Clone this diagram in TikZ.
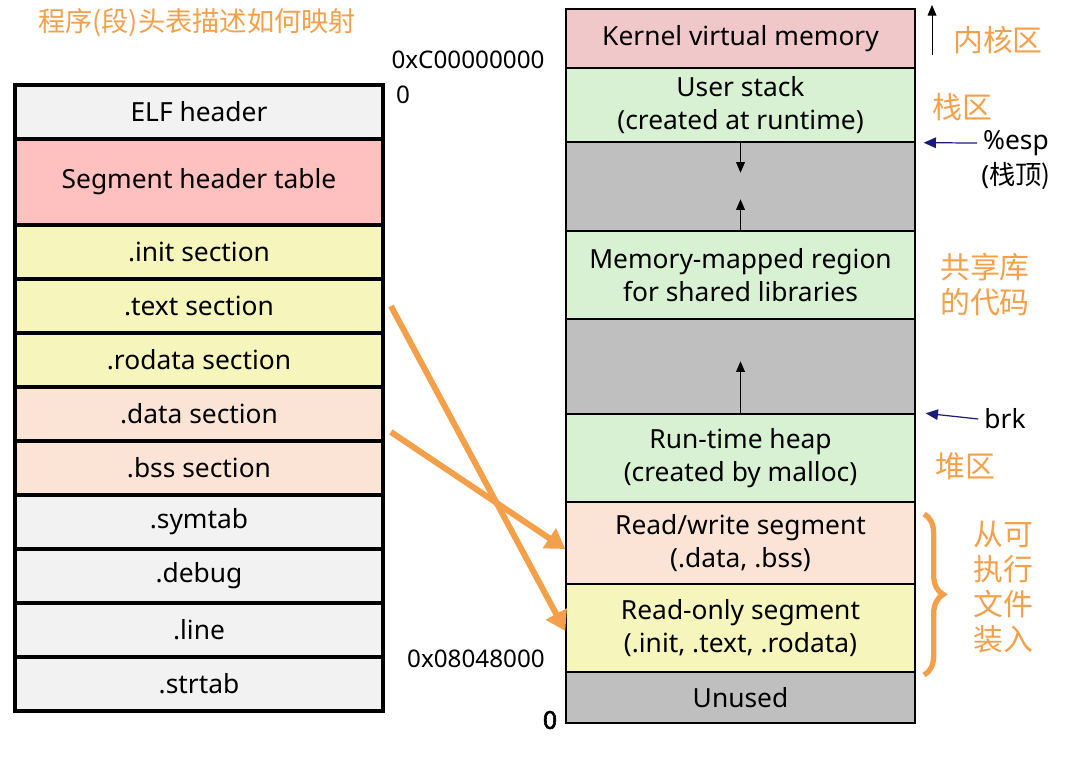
\documentclass[tikz,border=0pt]{standalone}
\usepackage{fontspec}
\setmainfont{Noto Sans}
\newfontfamily\cjk{Noto Sans CJK SC}
\newfontfamily\heavy{Noto Sans}[FakeBold=2.5]
\usetikzlibrary{arrows.meta,decorations.pathreplacing}
\definecolor{orng}{HTML}{F4A04A}
\definecolor{lgry}{HTML}{F2F2F2}
\definecolor{pnk}{HTML}{FFC0C0}
\definecolor{ylw}{HTML}{F5F5BC}
\definecolor{peach}{HTML}{FBE4D6}
\definecolor{grn}{HTML}{D8F1D2}
\definecolor{dgry}{HTML}{BFBFBF}
\definecolor{kpnk}{HTML}{F0C8CA}
\definecolor{navyb}{HTML}{1C1C78}
\tikzset{
  lbox/.style={draw, line width=2.2pt, inner sep=0pt, minimum width=7.36cm, font=\fontsize{15}{19}\selectfont},
  rbox/.style={draw, line width=0.8pt, inner sep=0pt, minimum width=6.98cm, align=center, font=\fontsize{15}{19}\selectfont},
  cnlab/.style={text=orng, font=\cjk\fontsize{17}{20}\selectfont, align=left},
  addr/.style={font=\fontsize{13.8}{16}\selectfont},
  growarr/.style={-{Triangle[width=5pt,length=6pt]}, line width=0.5pt},
  ptrarr/.style={navyb, -{Triangle[width=6pt,length=7pt]}, line width=0.7pt},
  maparr/.style={orng, line width=3.4pt, -{Triangle[width=13pt,length=11pt]}},
}
\begin{document}
\begin{tikzpicture}[x=0.02cm,y=-0.02cm]
    \useasboundingbox (0,0) rectangle (1084,764);
    %%ELF_file
    \foreach \nm/\ya/\yb/\col/\txt in {
        elf/85/139/lgry/{ELF header},
        sht/139/225/pnk/{Segment header table},
        init/225/279/ylw/{.init section},
        text/279/333/ylw/{.text section},
        rodata/333/387/ylw/{.rodata section},
        data/387/441/peach/{.data section},
        bss/441/495/peach/{.bss section},
        symtab/495/549/lgry/{.symtab},
        debug/549/603/lgry/{.debug},
        line/603/657/lgry/{.line},
        strtab/657/711/lgry/{.strtab}}
    {
      \pgfmathsetmacro{\ym}{(\ya+\yb)/2}
      \pgfmathsetmacro{\hh}{(\yb-\ya)*0.02}
      \node[lbox, fill=\col, minimum height=\hh cm] (\nm) at (199,\ym) {\txt};
    }
    %%process_memory
    \foreach \nm/\ya/\yb/\col/\txt in {
        kern/9/68/kpnk/{Kernel virtual memory},
        ustk/68/142/grn/{User stack\\(created at runtime)},
        gapa/142/231/dgry/{},
        mmap/231/319/grn/{Memory-mapped region\\for shared libraries},
        gapb/319/414/dgry/{},
        heap/414/502/grn/{Run-time heap\\(created by malloc)},
        rw/502/584/peach/{Read/write segment\\(.data, .bss)},
        ro/584/672/ylw/{Read-only segment\\(.init, .text, .rodata)},
        unused/672/723/dgry/{Unused}}
    {
      \pgfmathsetmacro{\ym}{(\ya+\yb)/2}
      \pgfmathsetmacro{\hh}{(\yb-\ya)*0.02}
      \node[rbox, fill=\col, minimum height=\hh cm] (\nm) at (740.5,\ym) {\txt};
    }
    %%growth
    \draw[growarr] (ustk.south) -- ([yshift=-0.6cm]ustk.south);
    \draw[growarr] (mmap.north) -- ([yshift=0.62cm]mmap.north);
    \draw[growarr] (heap.north) -- ([yshift=1.04cm]heap.north);
    \coordinate (kup) at (932,55);
    \draw[growarr] (kup) -- ++(0,-50);
    %%addresses
    \node[addr] (ktop) at (468,60) {0xC00000000};
    \node[addr, right] (zero) at (390,95) {0};
    \node[addr] (rostart) at (476,659) {0x08048000};
    \node[font=\heavy\fontsize{14}{16}\selectfont] (bot) at (550,720) {0};
    %%pointers
    \node[font=\fontsize{15}{19}\selectfont] (esp) at (1016,143) {\%esp};
    \node[font=\fontsize{15}{19}\selectfont] (espcn) at (1016,176) {(\cjk 栈顶)};
    \node[font=\fontsize{15}{19}\selectfont] (brk) at (1005,419) {brk};
    \draw[ptrarr] (esp.west) -- ([xshift=0.16cm]ustk.south east);
    \draw[ptrarr] (brk.west) -- ([xshift=0.2cm]heap.north east);
    %%mapping
    \draw[maparr] ([xshift=0.12cm]text.east) -- ([yshift=-0.06cm]ro.west);
    \draw[maparr] ([shift={(0.12cm,-0.36cm)}]data.east) -- ([yshift=-0.12cm]rw.west);
    \coordinate (brtop) at (924,514);
    \coordinate (brbot) at (924,675);
    \draw[orng, line width=3pt, decorate, decoration={brace, amplitude=11pt}] (brtop) -- (brbot);
    %%labels
    \node[cnlab, font=\cjk\fontsize{15.5}{18}\selectfont] (title) at (197,23) {程序(段)头表描述如何映射};
    \node[cnlab] (kcn) at (998,40) {内核区};
    \node[cnlab] (scn) at (962,107) {栈区};
    \node[cnlab] (lcn) at (985,285) {共享库\\的代码};
    \node[cnlab] (hcn) at (965,466) {堆区};
    \node[cnlab] (ecn) at (1003,587) {从可\\执行\\文件\\装入};
\end{tikzpicture}
\end{document}
